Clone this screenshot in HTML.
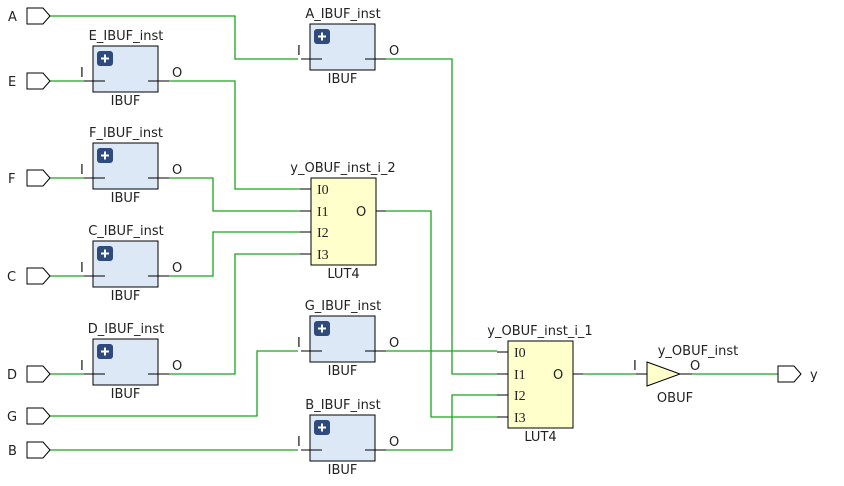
<!DOCTYPE html>
<html><head><meta charset="utf-8"><style>
html,body{margin:0;padding:0;background:#fff;}
svg text{font-family:"DejaVu Sans","Liberation Sans",sans-serif;font-size:13px;fill:#222;}
svg text.s{font-family:"Liberation Serif",serif;font-size:14px;}
</style></head><body>
<svg width="844" height="481" viewBox="0 0 844 481" xmlns="http://www.w3.org/2000/svg">
<defs>
<g id="port"><path d="M0,-8 H16 L23,0 L16,8 H0 Z" fill="#fff" stroke="#000" stroke-width="1"/></g>
<g id="ibuf">
<rect x="0" y="0" width="65" height="46" fill="#dde8f6" stroke="#000"/>
<rect x="4" y="5" width="16" height="15" rx="3" fill="#2f4a7d"/>
<path d="M12,8.5 V16.5 M8,12.5 H16" stroke="#fff" stroke-width="2"/>
<path d="M-9,35 H12 M55,35 H76" stroke="#000"/>
<text x="-13" y="31">I</text><text x="79" y="31">O</text>
<text x="32.5" y="59" text-anchor="middle">IBUF</text>
</g>
<g id="lut">
<rect x="0" y="0" width="65" height="87" fill="#ffffcc" stroke="#000"/>
<path d="M-11,11 H0 M-11,33 H0 M-11,54 H0 M-11,76 H0 M65,33 H75" stroke="#000"/>
<text class="s" x="6" y="16">I0</text><text class="s" x="6" y="38">I1</text>
<text class="s" x="6" y="59">I2</text><text class="s" x="6" y="81">I3</text>
<text x="45" y="38">O</text>
<text x="32.5" y="100" text-anchor="middle">LUT4</text>
</g>
</defs>
<g fill="none" stroke="#19a619" stroke-width="1.3">
<polyline points="50,16 235,16 235,59 298,59"/>
<polyline points="386,59 452,59 452,374 497,374"/>
<polyline points="50,81 84,81"/>
<polyline points="50,178 84,178"/>
<polyline points="50,276 84,276"/>
<polyline points="50,374 84,374"/>
<polyline points="169,81 235,81 235,189 300,189"/>
<polyline points="169,178 213,178 213,211 300,211"/>
<polyline points="169,276 213,276 213,232 300,232"/>
<polyline points="169,374 235,374 235,254 300,254"/>
<polyline points="386,211 431,211 431,417 497,417"/>
<polyline points="50,416 257,416 257,351 298,351"/>
<polyline points="386,351 497,351"/>
<polyline points="50,450 298,450"/>
<polyline points="386,450 452,450 452,395 497,395"/>
<polyline points="583,374 636,374"/>
<polyline points="692,374 778,374"/>
</g>
<use href="#port" x="27" y="16"/><use href="#port" x="27" y="81"/>
<use href="#port" x="27" y="178"/><use href="#port" x="27" y="276"/>
<use href="#port" x="27" y="374"/><use href="#port" x="27" y="416"/>
<use href="#port" x="27" y="450"/><use href="#port" x="778" y="374"/>
<text x="8" y="21">A</text><text x="8" y="86">E</text><text x="8" y="183">F</text>
<text x="7" y="281">C</text><text x="7" y="379">D</text><text x="7" y="421">G</text>
<text x="8" y="455">B</text><text x="810" y="379">y</text>
<use href="#ibuf" x="93" y="46"/><text x="126" y="40" text-anchor="middle">E_IBUF_inst</text>
<use href="#ibuf" x="93" y="143"/><text x="126" y="137" text-anchor="middle">F_IBUF_inst</text>
<use href="#ibuf" x="93" y="241"/><text x="126" y="235" text-anchor="middle">C_IBUF_inst</text>
<use href="#ibuf" x="93" y="339"/><text x="126" y="333" text-anchor="middle">D_IBUF_inst</text>
<use href="#ibuf" x="310" y="24"/><text x="343" y="18" text-anchor="middle">A_IBUF_inst</text>
<use href="#ibuf" x="310" y="316"/><text x="343" y="310" text-anchor="middle">G_IBUF_inst</text>
<use href="#ibuf" x="310" y="415"/><text x="343" y="409" text-anchor="middle">B_IBUF_inst</text>
<use href="#lut" x="311" y="178"/><text x="343" y="172" text-anchor="middle">y_OBUF_inst_i_2</text>
<use href="#lut" x="508" y="341"/><text x="540" y="335" text-anchor="middle">y_OBUF_inst_i_1</text>
<path d="M636,374 H647 M680,374 H692" stroke="#000"/>
<path d="M647,362 L680,374 L647,386 Z" fill="#ffffcc" stroke="#000"/>
<text x="633" y="370">I</text><text x="690" y="370">O</text>
<text x="698" y="355" text-anchor="middle">y_OBUF_inst</text>
<text x="675" y="402" text-anchor="middle">OBUF</text>
</svg>
</body></html>
